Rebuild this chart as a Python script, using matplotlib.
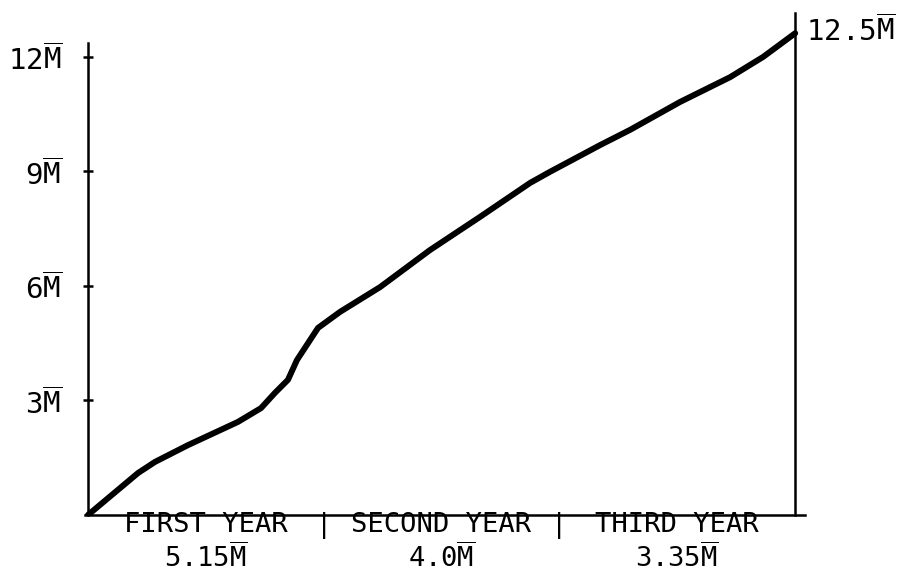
import matplotlib
matplotlib.use("Agg")
import matplotlib.pyplot as plt
import matplotlib.transforms as mtrans

FONT = "DejaVu Sans Mono"
plt.rcParams["mathtext.fontset"] = "custom"
plt.rcParams["mathtext.rm"] = FONT
plt.rcParams["mathtext.it"] = FONT
plt.rcParams["mathtext.bf"] = FONT
plt.rcParams["font.family"] = FONT

# Data (months since start, cumulative value in millions)
months = [0, 2.55, 3.41, 5.09, 7.64, 8.81, 9.52, 10.18, 10.64, 11.71, 12.83, 14.87,
          17.41, 19.96, 22.51, 23.52, 26.07, 27.60, 30.14, 32.69, 34.37, 36]
values = [0, 1.10, 1.39, 1.83, 2.44, 2.80, 3.20, 3.54, 4.06, 4.90, 5.32, 5.97,
          6.94, 7.81, 8.70, 8.99, 9.69, 10.09, 10.82, 11.47, 12.00, 12.62]

ytick_vals = [3, 6, 9, 12]
M = r"$\overline{\mathrm{M}}$"
ytick_labels = ["3" + M, "6" + M, "9" + M, "12" + M]
year_names = ["FIRST YEAR", "SECOND YEAR", "THIRD YEAR"]
year_totals = ["5.15" + M, "4.0" + M, "3.35" + M]
year_centers = [6, 18, 30]
year_dividers = [12, 24]
end_label = "12.5" + M

FS = 21
FSB = 19.5

fig = plt.figure(figsize=(8.99, 5.74), dpi=100)
W, H = 899, 574
ax = fig.add_axes([85 / W, (H - 515) / H, 720 / W, 502 / H])
ax.set_xlim(-0.15, 36.5)
ax.set_ylim(0, 13.15)

ax.plot(months, values, color="black", lw=4.3, solid_capstyle="round", solid_joinstyle="round", zorder=3)

ax.spines["top"].set_visible(False)
ax.spines["left"].set_position(("data", 0))
ax.spines["left"].set_bounds(0, 12.37)
ax.spines["right"].set_position(("data", 36))
ax.spines["right"].set_bounds(0, 13.15)
ax.spines["bottom"].set_bounds(-0.15, 36.5)
for s in ["left", "right", "bottom"]:
    ax.spines[s].set_linewidth(1.8)
    ax.spines[s].set_color("black")

ax.set_yticks(ytick_vals)
ax.set_yticklabels(ytick_labels, fontsize=FS)
ax.tick_params(axis="y", direction="inout", length=7, width=1.8, pad=15, colors="black")
ax.set_xticks([])

tr = mtrans.blended_transform_factory(ax.transData, ax.transAxes)
for name, tot, c in zip(year_names, year_totals, year_centers):
    ax.text(c, 0.006, name, transform=tr, ha="center", va="top", fontsize=FSB)
    ax.text(c, -0.115, tot, transform=tr, ha="center", va="bottom", fontsize=FSB)
for d in year_dividers:
    ax.text(d, 0.006, "|", transform=tr, ha="center", va="top", fontsize=FSB)

ax.annotate(end_label, xy=(36, values[-1]), xytext=(8, 2), textcoords="offset points",
            ha="left", va="center", fontsize=FS, annotation_clip=False)

fig.savefig("out.png", dpi=100)
